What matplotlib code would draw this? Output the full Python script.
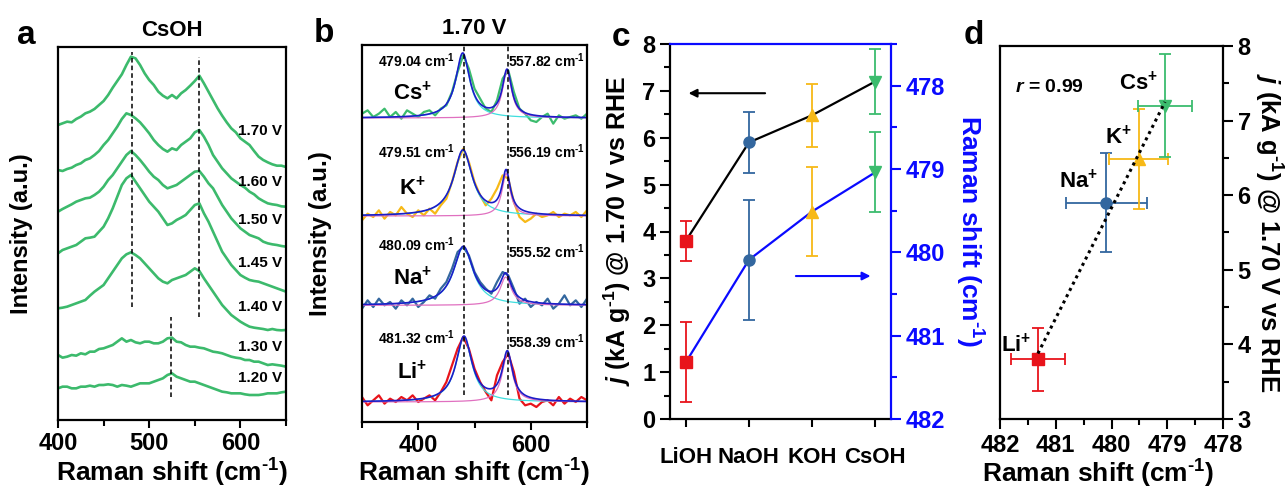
import numpy as np
import matplotlib.pyplot as plt
from matplotlib.ticker import MultipleLocator

plt.rcParams['font.family'] = 'Liberation Sans'
plt.rcParams['font.weight'] = 'bold'
plt.rcParams['axes.labelweight'] = 'bold'
plt.rcParams['axes.titleweight'] = 'bold'
plt.rcParams['mathtext.fontset'] = 'custom'
plt.rcParams['mathtext.rm'] = 'Liberation Sans:bold'
plt.rcParams['mathtext.bf'] = 'Liberation Sans:bold'
plt.rcParams['mathtext.it'] = 'Liberation Sans:bold:italic'
plt.rcParams['axes.linewidth'] = 1.6

# ---------------- panel a: CsOH spectra vs potential (offset, a.u.) ----------------
shift_a = np.arange(400, 651, 5)
potentials = ['1.70 V', '1.60 V', '1.50 V', '1.45 V', '1.40 V', '1.30 V', '1.20 V']
spec_170 = [88.5, 89, 89.5, 89.3, 90.3, 91, 92, 92.5, 93.3, 94.5, 95.7, 97.5, 99.7, 101.7, 103.7, 106.5, 109,
            108.5, 106.5, 104, 102, 100.5, 98.5, 97.3, 96.5, 97.5, 96.5, 98, 99, 100.3, 101.7, 103.3, 101, 98.5,
            96, 93.5, 91.3, 89.3, 87.5, 86.3, 84.5, 83.5, 82.5, 80.7, 79, 78, 77.3, 76.7, 76.3, 76.3, 75.9]
spec_160 = [75, 74.7, 75.3, 75.7, 76.5, 77, 78, 78.5, 79.5, 80.7, 82.5, 84, 86, 88, 90.3, 92, 91.5, 90.5, 89.3,
            87.7, 86, 84, 82.5, 81.3, 80.5, 81.5, 81, 82.5, 83.5, 84.5, 86.3, 87, 85, 82.5, 79.5, 77.5, 75.5, 74,
            72.5, 71.5, 70.5, 69.7, 68.5, 67.7, 66.5, 65.7, 65, 64.7, 64.5, 64.1, 64]
spec_150 = [62.5, 63.3, 64, 64.7, 65.5, 66, 66.5, 66.7, 67.5, 68.5, 70, 72, 73.5, 75.5, 77.5, 79.5, 80.7, 79.5, 78,
            76.3, 74.5, 73, 72, 70.5, 69.5, 70, 70.5, 71.5, 72.5, 73.5, 74.5, 74.7, 73, 71, 69.5, 67, 64.5, 62.5,
            60.5, 59, 57.5, 56.5, 55.5, 55, 54.5, 53.5, 53, 52.7, 52.5, 52.2, 52]
spec_145 = [50, 51, 51.5, 52, 52.5, 53.5, 54.5, 54.7, 55, 56.5, 58, 60.5, 63.5, 67, 70.5, 72.5, 73.5, 71.5, 69.5,
            67.5, 65.5, 64, 62.5, 60.5, 58.5, 59, 60, 60.7, 61.5, 63, 64.5, 65, 62, 59.5, 56.5, 53.5, 50.5, 48.5,
            46.5, 45, 43.5, 42.7, 42, 41.7, 41.5, 41, 40.5, 40, 39.5, 39, 38.5]
spec_140 = [33.5, 33.7, 34, 34.5, 35, 35.5, 36, 37.3, 38.5, 39.5, 40.5, 42.5, 44.5, 46.5, 48.5, 49.7, 50.3, 49.5,
            48.5, 47, 45.5, 44, 42.5, 41.5, 41, 42, 42.5, 43, 43.5, 44.5, 45.5, 44.7, 42.5, 40.5, 38.5, 36.5, 34.5,
            33, 31.5, 30.5, 29.5, 28.7, 28, 27.7, 27.5, 27.3, 27, 27.3, 27, 26.9, 27]
spec_130 = [19.5, 18.7, 19, 19.5, 19.3, 20, 19.7, 20.5, 20.5, 21.3, 21.5, 22, 22.5, 23.5, 24.5, 23.5, 24, 23.3, 23,
            23.5, 23.5, 23, 23, 23.5, 24.5, 24.7, 23.5, 23.3, 22.5, 22, 22, 21.7, 21.5, 21, 20.5, 20.3, 20, 19.5,
            19, 18.7, 18.5, 18, 18, 17.5, 17.5, 17, 16.5, 16.7, 16.5, 16.3, 16]
spec_120 = [9.5, 10, 10, 9.5, 9.5, 10, 10, 10.3, 10, 10.5, 10.5, 10.7, 10.5, 10, 10.5, 10.3, 10, 10.5, 11, 11, 11,
            11.5, 12, 12.5, 13.5, 14, 13, 12.5, 12, 11.5, 11.5, 11, 10.5, 10, 9.5, 9, 8.5, 8.3, 8, 8, 8, 7.7, 7.5,
            7.5, 7.5, 7.7, 8, 8, 8, 8.3, 8.5]
label_y_a = [86.7, 71.5, 60, 47, 34, 22, 12.5]

# ---------------- panel b: 1.70 V spectra with two-peak fits ----------------
shift_b = np.arange(300, 701, 10)
ions_b = ['Cs', 'K', 'Na', 'Li']
raw_cs = [92.5, 93.5, 91.5, 92.5, 94, 91.5, 93, 91, 93.5, 92.5, 91.5, 93, 93.5, 92, 94, 95, 99, 105, 110, 106, 100,
          97, 94, 93, 96.5, 103, 105.5, 99, 94, 92.5, 90.5, 90, 91.5, 92.5, 89.5, 92, 91, 91.5, 92, 91, 92.5]
raw_k = [60.5, 62.5, 61.5, 63.5, 61, 63, 62, 64.5, 62.5, 61.5, 63.5, 62, 64, 62.5, 65, 67, 72, 78, 82, 78, 72, 68,
         65, 67, 70, 74, 73, 66, 61.5, 60, 61, 62.5, 61.5, 62, 63, 61.5, 62.5, 62, 63, 61.5, 63.5]
raw_na = [34, 36.5, 34.5, 37, 35, 36, 34, 36.5, 35, 37, 34.5, 36, 38, 37, 40, 42, 46, 51, 52.5, 50, 45, 42, 40,
          38.5, 42, 45, 44, 40, 35.5, 37, 34.5, 36, 35, 37, 34, 35.5, 38, 35, 36.5, 34.5, 37]
raw_li = [7.5, 5, 6.5, 8, 5.5, 7, 6, 7.5, 6.5, 8, 6, 7, 8, 6.5, 9, 12, 17, 22, 25.5, 22, 16, 12, 9, 6.5, 14, 18,
          20.5, 15, 7, 5, 5.5, 4.5, 6, 6.5, 5, 7.5, 5.5, 7, 6, 7.5, 6.5]
# fitted Lorentzian parameters
base_b = [91.2, 61.8, 35.0, 6.0]
pk1_pos = [479.04, 479.51, 480.09, 481.32]
pk1_amp = [19.3, 19.7, 17.5, 19.5]
pk1_fwhm = [30, 40, 42, 34]
pk2_pos = [557.82, 556.19, 555.52, 558.39]
pk2_amp = [14.0, 12.7, 8.5, 14.5]
pk2_fwhm = [20, 18, 24, 22]
lab1_y = [108.5, 81, 53.2, 25.2]
lab2_y = [108.5, 81, 51, 24]
ion_y = [98.5, 70, 43, 15]

# ---------------- panels c, d ----------------
electrolytes = ['LiOH', 'NaOH', 'KOH', 'CsOH']
ions = ['Li$^{+}$', 'Na$^{+}$', 'K$^{+}$', 'Cs$^{+}$']
j_act = [3.8, 5.9, 6.48, 7.2]
j_err = [0.42, 0.66, 0.67, 0.69]
raman = [481.32, 480.09, 479.51, 479.04]
raman_err = [0.48, 0.72, 0.53, 0.48]

colors = ['#e8141b', '#33679f', '#f7b917', '#3cbc6e']
markers = ['s', 'o', '^', 'v']
green = '#3cba6c'
blue = '#0a0aff'
fitblue = '#1c1cc8'

inv_cm = 'cm$^{\\text{-}1}$'
raman_label = 'Raman shift (' + inv_cm + ')'
j_label = '$j$ (kA g$^{\\text{-}1}$) @ 1.70 V vs RHE'

W, H = 1285, 493
fig = plt.figure(figsize=(W / 100, H / 100), dpi=100)


def rect(l, t, r, b):
    return [l / W, 1 - b / H, (r - l) / W, (b - t) / H]


def lorentz(x, x0, a, fwhm):
    return a / (1 + ((x - x0) / (fwhm / 2)) ** 2)


# ----- a -----
axa = fig.add_axes(rect(58, 47, 286, 420))
for spec in [spec_170, spec_160, spec_150, spec_145, spec_140, spec_130, spec_120]:
    axa.plot(shift_a, spec, color=green, lw=1.9)
for lab, yy in zip(potentials, label_y_a):
    axa.text(646, yy, lab, ha='right', va='center', fontsize=11)
axa.plot([481, 481], [34, 110.5], color='k', ls=(0, (3, 2)), lw=1.1)
axa.plot([555, 555], [31, 109], color='k', ls=(0, (3, 2)), lw=1.1)
axa.plot([524, 524], [7, 31], color='k', ls=(0, (3, 2)), lw=1.1)
axa.set_xlim(400, 650)
axa.set_ylim(0, 111.9)
axa.set_yticks([])
axa.xaxis.set_major_locator(MultipleLocator(100))
axa.xaxis.set_minor_locator(MultipleLocator(50))
axa.tick_params(axis='x', which='major', length=6, width=1.5, labelsize=17, pad=3)
axa.tick_params(axis='x', which='minor', length=4, width=1.5)
axa.set_xlabel(raman_label, fontsize=19)
axa.set_ylabel('Intensity (a.u.)', fontsize=17)
axa.yaxis.set_label_coords(-0.11, 0.5)
axa.xaxis.set_label_coords(0.5, -0.098)
axa.set_title('CsOH', fontsize=16, pad=8)

# ----- b -----
axb = fig.add_axes(rect(362, 45, 587, 422))
xf = np.linspace(300, 700, 801)
for i, raw in enumerate([raw_cs, raw_k, raw_na, raw_li]):
    col = colors[[3, 2, 1, 0][i]]
    axb.plot(shift_b, raw, color=col, lw=1.6)
    c1 = base_b[i] + lorentz(xf, pk1_pos[i], pk1_amp[i], pk1_fwhm[i])
    c2 = base_b[i] + lorentz(xf, pk2_pos[i], pk2_amp[i], pk2_fwhm[i])
    axb.plot(xf, c1, color='#3fdede', lw=0.9)
    axb.plot(xf, c2, color='#e070c0', lw=0.9)
    axb.plot(xf, c1 + c2 - base_b[i], color=fitblue, lw=1.2)
    axb.text(465, lab1_y[i], f'{pk1_pos[i]:.2f} ' + inv_cm, ha='right', va='center', fontsize=10)
    axb.text(560, lab2_y[i], f'{pk2_pos[i]:.2f} ' + inv_cm, ha='left', va='center', fontsize=10)
    axb.text(390, ion_y[i], ions_b[i] + '$^{+}$', ha='center', va='center', fontsize=16)
axb.plot([482, 482], [8, 113.1], color='k', ls=(0, (3, 2)), lw=1.1)
axb.plot([559, 559], [8, 113.1], color='k', ls=(0, (3, 2)), lw=1.1)
axb.set_xlim(300, 700)
axb.set_ylim(0, 113.1)
axb.set_yticks([])
axb.xaxis.set_major_locator(MultipleLocator(200))
axb.xaxis.set_minor_locator(MultipleLocator(100))
axb.tick_params(axis='x', which='major', length=6, width=1.5, labelsize=17, pad=3)
axb.tick_params(axis='x', which='minor', length=4, width=1.5)
axb.set_xlabel(raman_label, fontsize=19)
axb.set_ylabel('Intensity (a.u.)', fontsize=17.5)
axb.yaxis.set_label_coords(-0.133, 0.5)
axb.xaxis.set_label_coords(0.5, -0.093)
axb.set_title('1.70 V', fontsize=16, pad=8)

# ----- c -----
axc = fig.add_axes(rect(670, 44, 891, 419))
xc = np.arange(1, 5)
axc.plot(xc, j_act, color='k', lw=1.6, zorder=2)
for i in range(4):
    axc.errorbar(xc[i], j_act[i], yerr=j_err[i], fmt=markers[i], color=colors[i], ms=8,
                 capsize=4, elinewidth=1.3, capthick=1.3, zorder=3)
axc.set_xlim(0.75, 4.25)
axc.set_ylim(0, 8)
axc.set_xticks(xc)
axc.set_xticklabels(electrolytes)
axc.yaxis.set_major_locator(MultipleLocator(1))
axc.yaxis.set_minor_locator(MultipleLocator(0.5))
axc.tick_params(axis='y', which='major', length=7, width=1.5, labelsize=17)
axc.tick_params(axis='y', which='minor', length=4, width=1.5)
axc.tick_params(axis='x', length=6, width=1.5, labelsize=16, pad=14)
axc.spines['top'].set_visible(False)
axc.spines['right'].set_visible(False)
axc.set_ylabel(j_label, fontsize=18)
axc.yaxis.set_label_coords(-0.167, 0.5)
axc.annotate('', xy=(1.0, 6.95), xytext=(2.3, 6.95),
             arrowprops=dict(arrowstyle='-|>', color='k', lw=1.5, mutation_scale=12))
axc.annotate('', xy=(3.97, 3.05), xytext=(2.7, 3.05),
             arrowprops=dict(arrowstyle='-|>', color=blue, lw=1.5, mutation_scale=12))

axr = axc.twinx()
axr.plot(xc, raman, color=blue, lw=1.6, zorder=2)
for i in range(4):
    axr.errorbar(xc[i], raman[i], yerr=raman_err[i], fmt=markers[i], color=colors[i], ms=8,
                 capsize=4, elinewidth=1.3, capthick=1.3, zorder=3)
axr.set_ylim(482, 477.5)
axr.yaxis.set_major_locator(MultipleLocator(1))
axr.yaxis.set_minor_locator(MultipleLocator(0.5))
axr.tick_params(axis='y', which='major', length=7, width=1.5, labelsize=17, colors=blue)
axr.tick_params(axis='y', which='minor', length=4, width=1.5, colors=blue)
axr.spines['left'].set_visible(False)
axr.spines['bottom'].set_visible(False)
axr.spines['right'].set_color(blue)
axr.spines['top'].set_color(blue)
axr.set_ylabel(raman_label, fontsize=19, color=blue, rotation=270, va='bottom')
axr.yaxis.set_label_coords(1.28, 0.5)

# ----- d -----
axd = fig.add_axes(rect(1000, 46, 1223, 419))
coef = np.polyfit(raman, j_act, 1)
xs = np.array([max(raman), min(raman)])
axd.plot(xs, np.polyval(coef, xs), color='k', ls=(0, (1, 1.3)), lw=2.2, zorder=4)
for i in range(4):
    axd.errorbar(raman[i], j_act[i], xerr=raman_err[i], yerr=j_err[i], fmt=markers[i], color=colors[i],
                 ms=8, capsize=4, elinewidth=1.3, capthick=1.3, zorder=3)
axd.text(481.73, 7.45, '$r$ = 0.99', ha='left', va='center', fontsize=14)
for lab, xx, yy in zip(ions, [481.71, 480.6, 479.88, 479.52], [3.99, 6.18, 6.78, 7.5]):
    axd.text(xx, yy, lab, ha='center', va='center', fontsize=16)
axd.set_xlim(482, 478)
axd.set_ylim(3, 8)
axd.xaxis.set_major_locator(MultipleLocator(1))
axd.xaxis.set_minor_locator(MultipleLocator(0.5))
axd.yaxis.set_major_locator(MultipleLocator(1))
axd.yaxis.set_minor_locator(MultipleLocator(0.5))
axd.yaxis.tick_right()
axd.tick_params(which='major', length=7, width=1.5, labelsize=17)
axd.tick_params(which='minor', length=4, width=1.5)
axd.set_xlabel(raman_label, fontsize=19)
axd.xaxis.set_label_coords(0.44, -0.105)
axd.yaxis.set_label_position('right')
axd.set_ylabel(j_label, fontsize=18.5, rotation=270, va='bottom')
axd.yaxis.set_label_coords(1.13, 0.5)

# panel letters
for lab, px, py in [('a', 26, 36), ('b', 324, 34), ('c', 621, 38), ('d', 974, 35)]:
    fig.text(px / W, 1 - py / H, lab, fontsize=24, ha='center', va='center')

fig.savefig('out.png', dpi=100)
